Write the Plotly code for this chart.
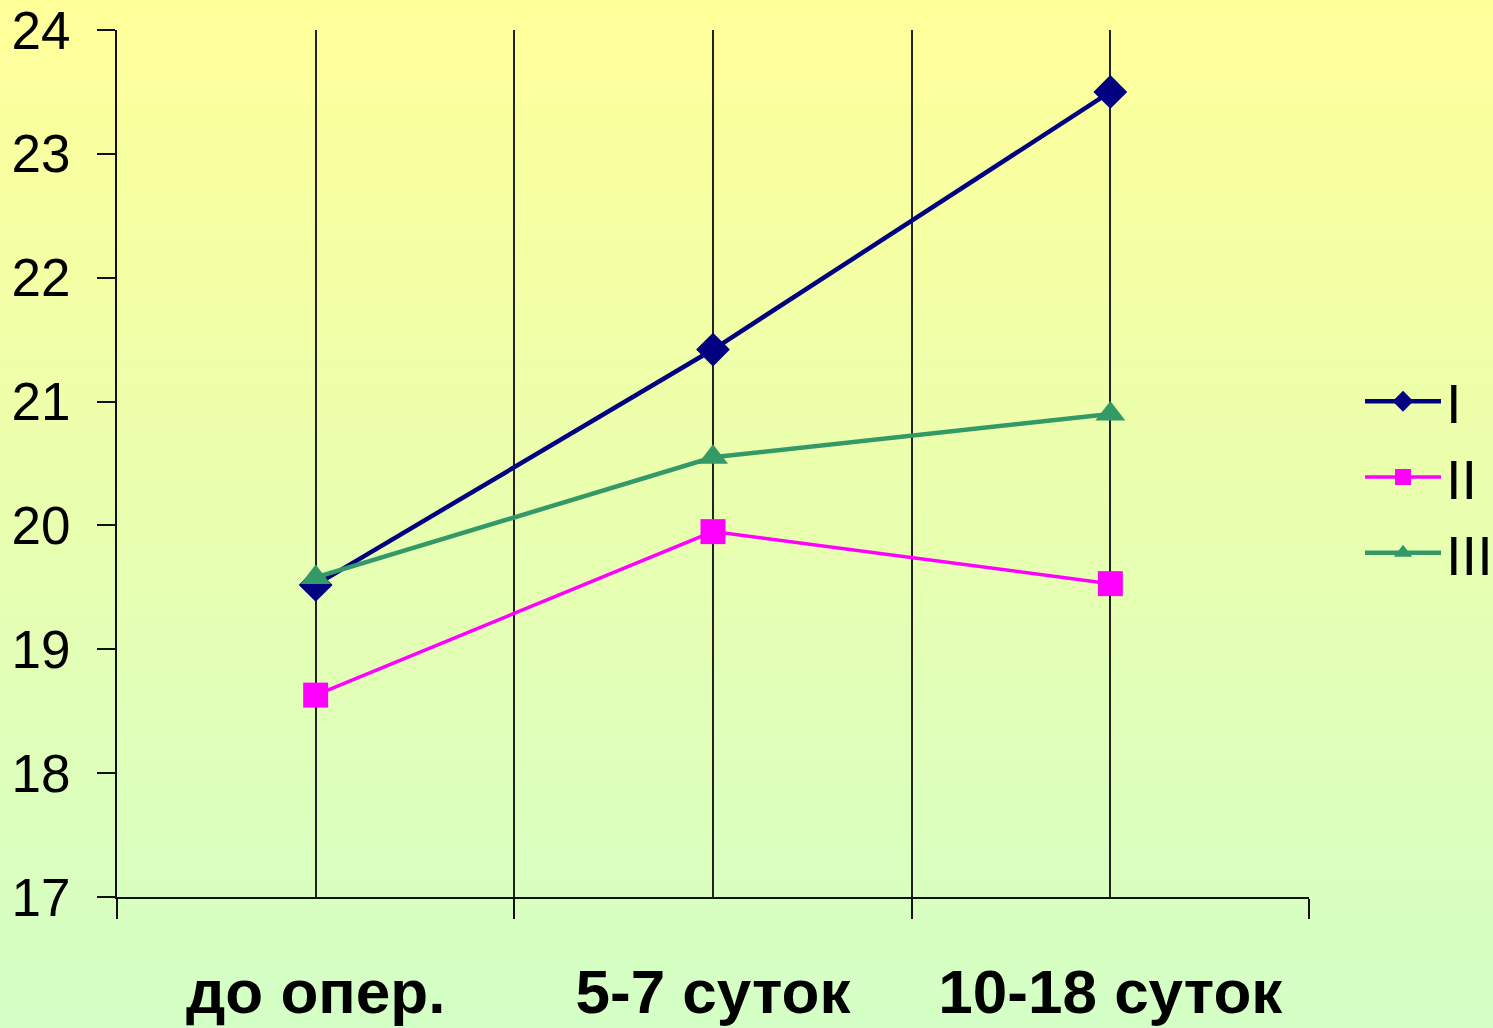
import plotly.graph_objects as go

categories = ["до опер.", "5-7 суток", "10-18 суток"]
cat_pos = [1, 3, 5]
series_names = ["I", "II", "III"]
values_I = [19.52, 21.42, 23.50]
values_II = [18.63, 19.95, 19.53]
values_III = [19.58, 20.55, 20.90]
y_ticks = [17, 18, 19, 20, 21, 22, 23, 24]

W, H = 1493, 1028
L, R, T, B = 117, 184, 30, 131
pw, ph = W - L - R, H - T - B

fig = go.Figure()

styles = [
    dict(color="#000080", symbol="diamond", size=26, width=4.5),
    dict(color="#FF00FF", symbol="square", size=25, width=3.5),
    dict(color="#339966", symbol="triangle-up", size=26, width=4.5),
]
for name, vals, st in zip(series_names, [values_I, values_II, values_III], styles):
    fig.add_trace(go.Scatter(
        x=cat_pos, y=vals, name=name, mode="lines+markers",
        line=dict(color=st["color"], width=st["width"]),
        marker=dict(symbol=st["symbol"], size=st["size"], color=st["color"]),
    ))

# gradient background
top = (255, 255, 153)
bot = (211, 255, 198)
n = 120
y0p = -B / ph - 0.01
y1p = (H - B) / ph + 0.01
shapes = []
for i in range(n):
    f = i / (n - 1)
    c = tuple(round(bot[k] + (top[k] - bot[k]) * f) for k in range(3))
    ya = y0p + (y1p - y0p) * i / n
    yb = y0p + (y1p - y0p) * (i + 1) / n + 0.002
    shapes.append(dict(type="rect", xref="paper", yref="paper",
                       x0=-L / pw - 0.01, x1=(W - L) / pw + 0.01, y0=ya, y1=yb,
                       fillcolor="rgb(%d,%d,%d)" % c, line=dict(width=0),
                       layer="below"))

fig.update_layout(
    width=W, height=H,
    margin=dict(l=L, r=R, t=T, b=B, autoexpand=False),
    paper_bgcolor="rgb(230,255,175)",
    plot_bgcolor="rgba(0,0,0,0)",
    shapes=shapes,
    font=dict(family="Arial, Liberation Sans, sans-serif", color="black"),
    showlegend=True,
    legend=dict(x=1.0428, y=0.484, xanchor="left", yanchor="middle",
                font=dict(size=56), bgcolor="rgba(0,0,0,0)",
                tracegroupgap=0, itemwidth=76),
    xaxis=dict(
        range=[0, 6], tickvals=cat_pos, ticktext=categories,
        ticks="", showgrid=True, gridcolor="#222222", gridwidth=1.5,
        tickfont=dict(size=62, family="Arial, Liberation Sans, sans-serif", weight="bold"),
        ticklabelstandoff=40, automargin=False,
        showline=True, linecolor="#111111", linewidth=2,
        minor=dict(tick0=0, dtick=2, ticks="outside", ticklen=20, tickwidth=2,
                   tickcolor="#111111", showgrid=True, gridcolor="#222222", gridwidth=1.5),
        zeroline=False,
    ),
    yaxis=dict(
        range=[17, 24], tickvals=y_ticks, ticks="outside", ticklen=18, tickwidth=2,
        tickcolor="#111111", showgrid=False, showline=True, linecolor="#111111",
        linewidth=2, tickfont=dict(size=53), ticklabelstandoff=16, zeroline=False,
        automargin=False,
    ),
)

fig.write_html("out.html", config={"displayModeBar": False},
               post_script="document.body.style.margin='0';document.body.style.overflow='hidden';")
